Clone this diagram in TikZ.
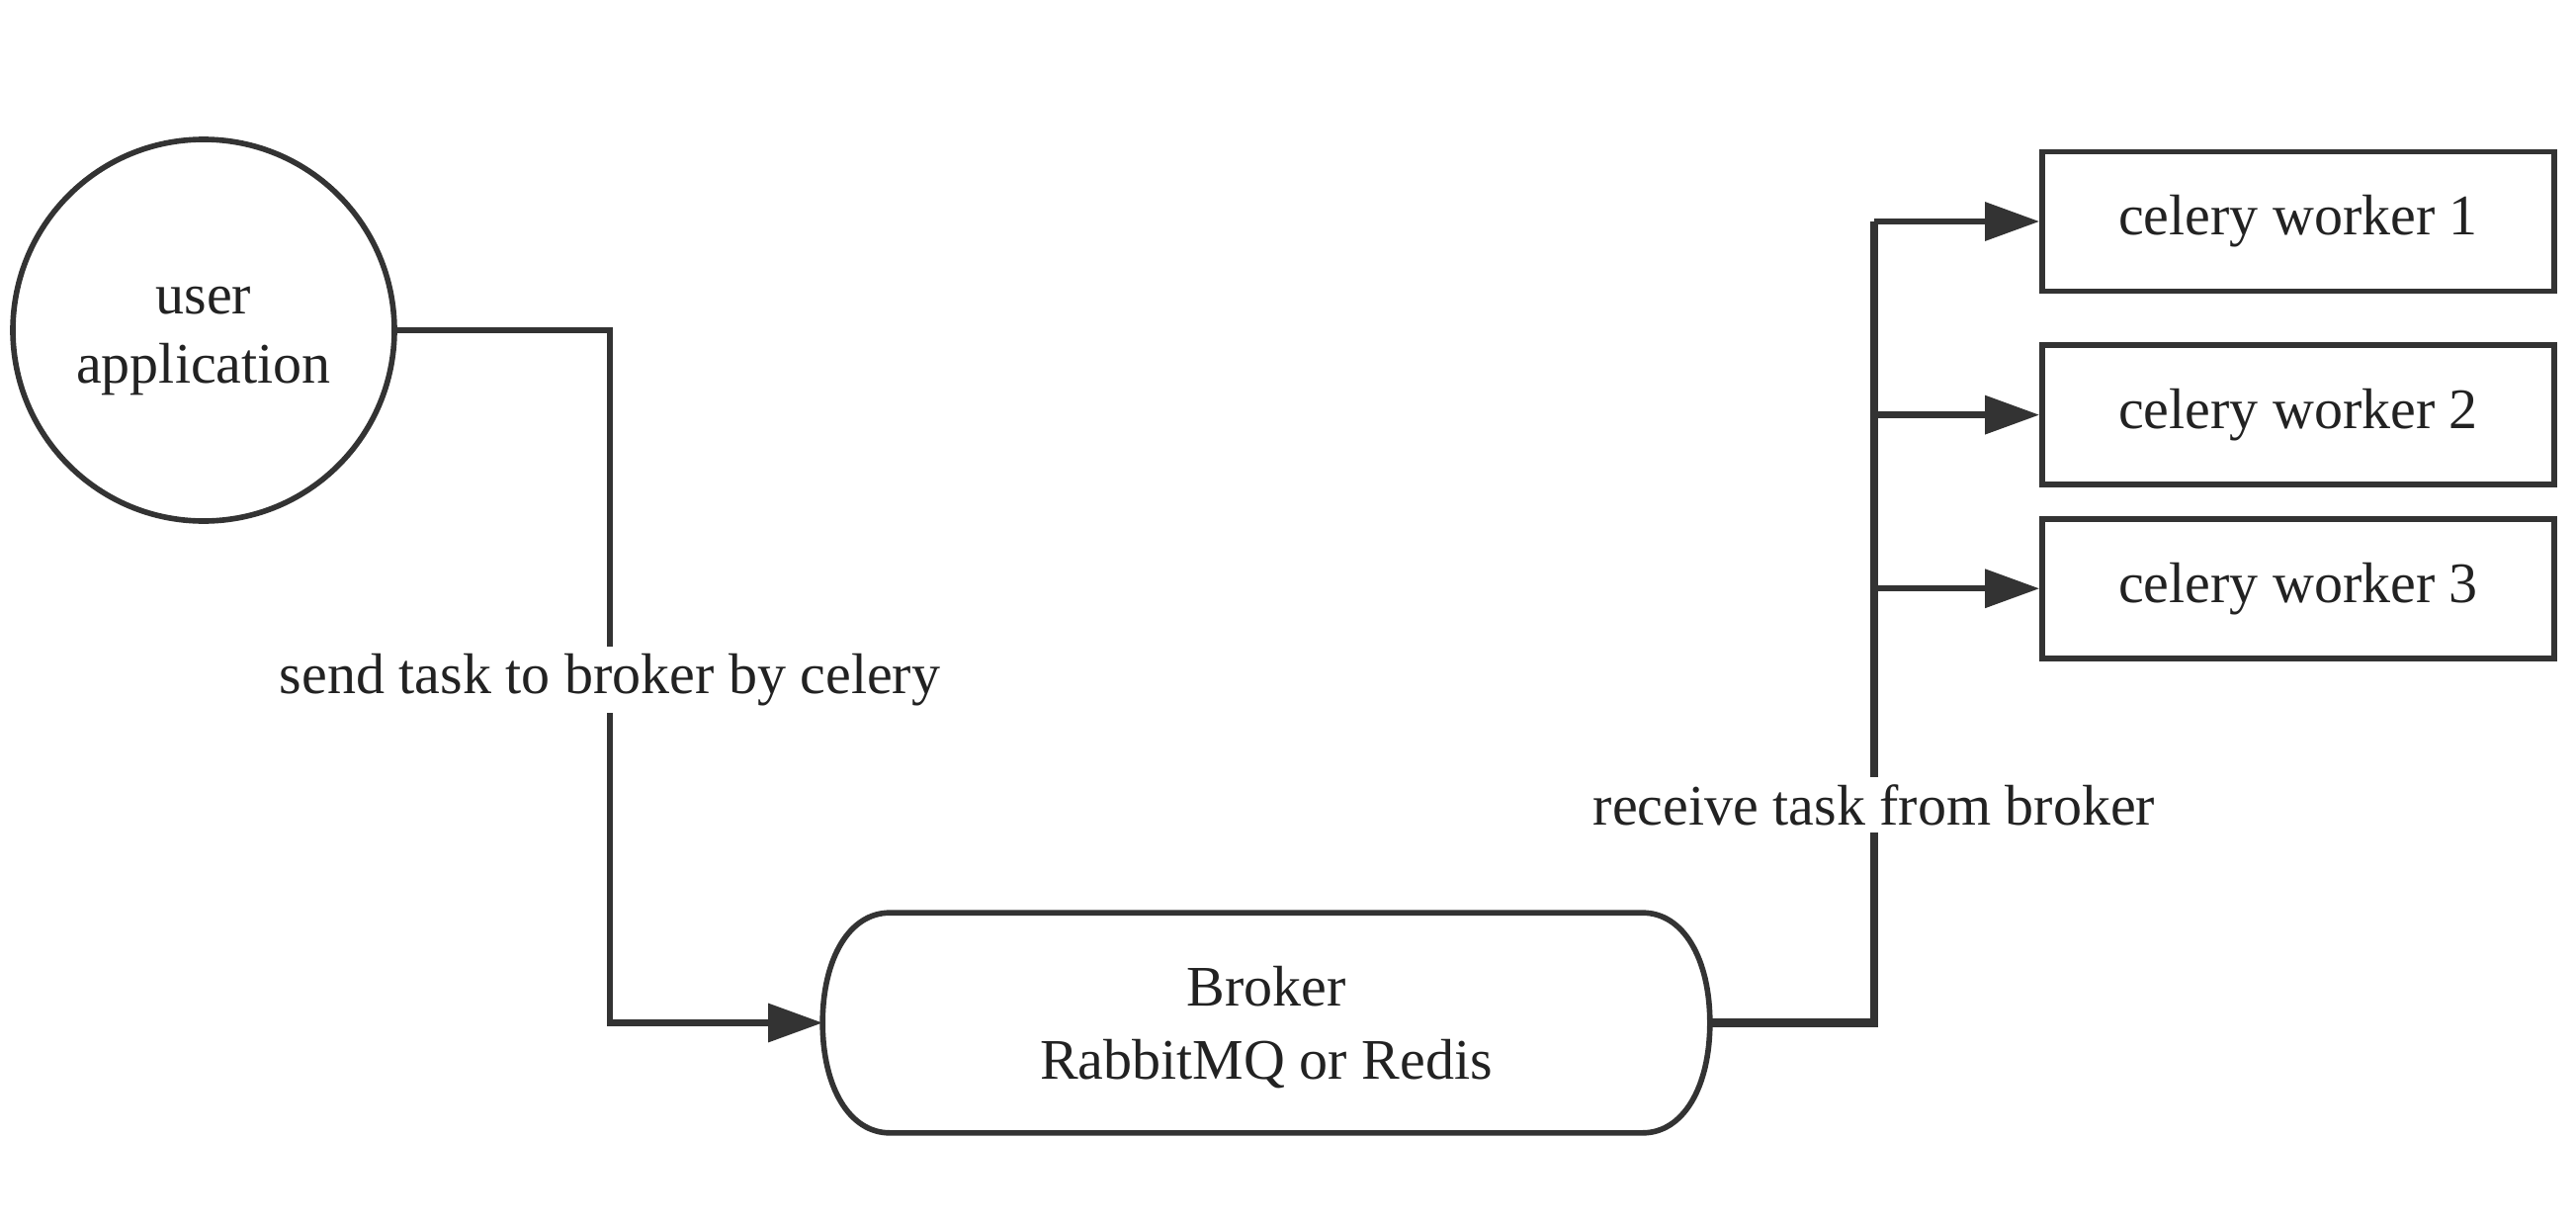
\documentclass[tikz,border=0pt]{standalone}
\usepackage{fontspec}
\setmainfont{Liberation Serif}
\usetikzlibrary{arrows.meta,positioning}

\definecolor{ink}{HTML}{333333}
\definecolor{txt}{HTML}{222222}

\tikzset{
  base/.style = {draw = ink, line width = 1.6pt, text = txt, align = center,
                 font = \fontsize{16.5}{21}\selectfont},
  appnode/.style = {base, circle, minimum size = 3.86cm, inner sep = 0pt,
                    text depth = 0pt, font = \fontsize{16.5}{20}\selectfont},
  queuenode/.style = {base, draw = none, rectangle, minimum width = 8.92cm,
                      minimum height = 2.17cm, text depth = 0pt},
  outline/.style = {draw = ink, line width = 1.6pt},
  workernode/.style = {base, rectangle, minimum width = 5.18cm, minimum height = 1.41cm},
  link/.style = {draw = ink, line width = 1.8pt, -{Triangle[length=5.5mm, width=3.8mm]}},
  trunk/.style = {draw = ink, line width = 2.5pt},
  lbl/.style = {fill = white, text = txt, inner sep = 2pt,
                font = \fontsize{16.5}{21}\selectfont}
}

\begin{document}
\begin{tikzpicture}
\useasboundingbox (0,0) rectangle (26.06,12.40);

\node[appnode] (user) at (2.06,9.06) {\rule{0pt}{10.5pt}user\\application};
\node[queuenode] (broker) at (12.81,2.055) {Broker\\RabbitMQ or Redis};
\node[workernode] (w1) at (23.25,10.16) {celery worker 1};
\node[workernode, below = 0.49cm of w1] (w2) {celery worker 2};
\node[workernode, below = 0.29cm of w2] (w3) {celery worker 3};

% broker outline with bulging ends
\draw[outline] ([xshift=6.8mm]broker.north west) -- ([xshift=-6.8mm]broker.north east)
  .. controls ([xshift=-2.7mm]broker.north east) and ([yshift=6.5mm]broker.east) .. (broker.east)
  .. controls ([yshift=-6.5mm]broker.east) and ([xshift=-2.7mm]broker.south east) .. ([xshift=-6.8mm]broker.south east)
  -- ([xshift=6.8mm]broker.south west)
  .. controls ([xshift=2.7mm]broker.south west) and ([yshift=-6.5mm]broker.west) .. (broker.west)
  .. controls ([yshift=6.5mm]broker.west) and ([xshift=2.7mm]broker.north west) .. ([xshift=6.8mm]broker.north west)
  -- cycle;

\coordinate (bend) at (6.17,2.055);
\coordinate (fork) at (18.96,2.055);

% user -> broker
\draw[link] (user.east) -| node[pos = 0.75, lbl, yshift = -1pt] (send) {send task to broker by celery} (bend) -- (broker.west);

% broker -> workers
\draw[trunk] (broker.east) -- (fork) -- (fork |- w1.west);
\foreach \w in {w1,w2,w3}
  \draw[link] (fork |- \w.west) -- (\w.west);
\node[lbl] (recv) at (18.96,4.26) {receive task from broker};
\end{tikzpicture}
\end{document}
